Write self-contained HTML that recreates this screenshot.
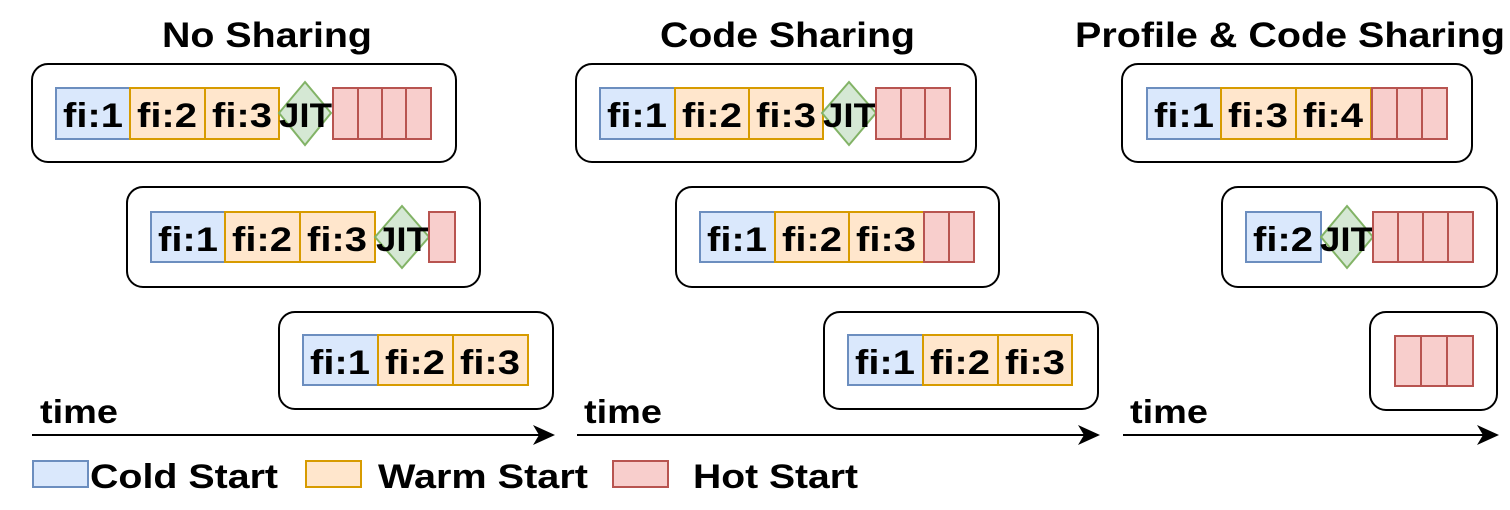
<!DOCTYPE html>
<html><head><meta charset="utf-8"><style>
html,body{margin:0;padding:0;background:#fff;}
svg{display:block;}
text{font-family:"Liberation Sans",Arial,sans-serif;font-weight:bold;fill:#000;}
.c{fill:#dae8fc;stroke:#6c8ebf;stroke-width:2;}
.w{fill:#ffe6cc;stroke:#d79b00;stroke-width:2;}
.h{fill:#f8cecc;stroke:#b85450;stroke-width:2;}
.d{fill:#d5e8d4;stroke:#82b366;stroke-width:2;}
.b{fill:none;stroke:#000;stroke-width:2;}
.t{font-size:34px;}
</style></head><body>
<svg width="1510" height="510" viewBox="0 0 1510 510" xmlns="http://www.w3.org/2000/svg">
<defs><marker id="ar" markerWidth="22" markerHeight="22" refX="20" refY="11" orient="auto" markerUnits="userSpaceOnUse"><path d="M0,1 L22,11 L0,21 L6,11 Z" fill="#000"/></marker></defs>
<!-- titles -->
<text x="162" y="47" font-size="35" textLength="210" lengthAdjust="spacingAndGlyphs">No Sharing</text>
<text x="660" y="47" font-size="35" textLength="255" lengthAdjust="spacingAndGlyphs">Code Sharing</text>
<text x="1075" y="47" font-size="35" textLength="430" lengthAdjust="spacingAndGlyphs">Profile &amp; Code Sharing</text>

<!-- Panel 1 -->
<rect class="b" x="32" y="64" width="424" height="98" rx="16"/>
<rect class="c" x="56" y="88" width="74" height="51"/><text class="t" x="63" y="127" textLength="60" lengthAdjust="spacingAndGlyphs">fi:1</text>
<rect class="w" x="130" y="88" width="75" height="51"/><text class="t" x="137" y="127" textLength="60" lengthAdjust="spacingAndGlyphs">fi:2</text>
<rect class="w" x="205" y="88" width="74" height="51"/><text class="t" x="212" y="127" textLength="60" lengthAdjust="spacingAndGlyphs">fi:3</text>
<polygon class="d" points="305,82 331,113 305,145 279,113"/><text class="t" x="279" y="127" textLength="53" lengthAdjust="spacingAndGlyphs">JIT</text>
<rect class="h" x="333" y="88" width="25" height="51"/><rect class="h" x="358" y="88" width="24" height="51"/><rect class="h" x="382" y="88" width="24" height="51"/><rect class="h" x="406" y="88" width="25" height="51"/>

<rect class="b" x="127" y="187" width="353" height="100" rx="16"/>
<rect class="c" x="151" y="212" width="74" height="50"/><text class="t" x="158" y="251" textLength="60" lengthAdjust="spacingAndGlyphs">fi:1</text>
<rect class="w" x="225" y="212" width="75" height="50"/><text class="t" x="232" y="251" textLength="60" lengthAdjust="spacingAndGlyphs">fi:2</text>
<rect class="w" x="300" y="212" width="75" height="50"/><text class="t" x="307" y="251" textLength="60" lengthAdjust="spacingAndGlyphs">fi:3</text>
<polygon class="d" points="402,206 429,237 402,268 375,237"/><text class="t" x="376" y="251" textLength="53" lengthAdjust="spacingAndGlyphs">JIT</text>
<rect class="h" x="429" y="212" width="26" height="50"/>

<rect class="b" x="279" y="312" width="274" height="97" rx="16"/>
<rect class="c" x="303" y="335" width="75" height="50"/><text class="t" x="310" y="374" textLength="60" lengthAdjust="spacingAndGlyphs">fi:1</text>
<rect class="w" x="378" y="335" width="75" height="50"/><text class="t" x="385" y="374" textLength="60" lengthAdjust="spacingAndGlyphs">fi:2</text>
<rect class="w" x="453" y="335" width="75" height="50"/><text class="t" x="460" y="374" textLength="60" lengthAdjust="spacingAndGlyphs">fi:3</text>

<text x="40" y="423" font-size="33" textLength="78" lengthAdjust="spacingAndGlyphs">time</text>
<line x1="32" y1="435" x2="553" y2="435" stroke="#000" stroke-width="2" marker-end="url(#ar)"/>

<!-- Panel 2 -->
<rect class="b" x="576" y="64" width="400" height="98" rx="16"/>
<rect class="c" x="600" y="88" width="75" height="51"/><text class="t" x="607" y="127" textLength="60" lengthAdjust="spacingAndGlyphs">fi:1</text>
<rect class="w" x="675" y="88" width="74" height="51"/><text class="t" x="682" y="127" textLength="60" lengthAdjust="spacingAndGlyphs">fi:2</text>
<rect class="w" x="749" y="88" width="74" height="51"/><text class="t" x="756" y="127" textLength="60" lengthAdjust="spacingAndGlyphs">fi:3</text>
<polygon class="d" points="849,82 876,113 849,145 822,113"/><text class="t" x="823" y="127" textLength="53" lengthAdjust="spacingAndGlyphs">JIT</text>
<rect class="h" x="876" y="88" width="25" height="51"/><rect class="h" x="901" y="88" width="24" height="51"/><rect class="h" x="925" y="88" width="25" height="51"/>

<rect class="b" x="676" y="187" width="323" height="100" rx="16"/>
<rect class="c" x="700" y="212" width="75" height="50"/><text class="t" x="707" y="251" textLength="60" lengthAdjust="spacingAndGlyphs">fi:1</text>
<rect class="w" x="775" y="212" width="74" height="50"/><text class="t" x="782" y="251" textLength="60" lengthAdjust="spacingAndGlyphs">fi:2</text>
<rect class="w" x="849" y="212" width="75" height="50"/><text class="t" x="856" y="251" textLength="60" lengthAdjust="spacingAndGlyphs">fi:3</text>
<rect class="h" x="924" y="212" width="25" height="50"/><rect class="h" x="949" y="212" width="25" height="50"/>

<rect class="b" x="824" y="312" width="274" height="97" rx="16"/>
<rect class="c" x="848" y="335" width="75" height="50"/><text class="t" x="855" y="374" textLength="60" lengthAdjust="spacingAndGlyphs">fi:1</text>
<rect class="w" x="923" y="335" width="75" height="50"/><text class="t" x="930" y="374" textLength="60" lengthAdjust="spacingAndGlyphs">fi:2</text>
<rect class="w" x="998" y="335" width="74" height="50"/><text class="t" x="1005" y="374" textLength="60" lengthAdjust="spacingAndGlyphs">fi:3</text>

<text x="584" y="423" font-size="33" textLength="78" lengthAdjust="spacingAndGlyphs">time</text>
<line x1="577" y1="435" x2="1098" y2="435" stroke="#000" stroke-width="2" marker-end="url(#ar)"/>

<!-- Panel 3 -->
<rect class="b" x="1122" y="64" width="350" height="98" rx="16"/>
<rect class="c" x="1147" y="88" width="74" height="51"/><text class="t" x="1154" y="127" textLength="60" lengthAdjust="spacingAndGlyphs">fi:1</text>
<rect class="w" x="1221" y="88" width="75" height="51"/><text class="t" x="1228" y="127" textLength="60" lengthAdjust="spacingAndGlyphs">fi:3</text>
<rect class="w" x="1296" y="88" width="75" height="51"/><text class="t" x="1303" y="127" textLength="60" lengthAdjust="spacingAndGlyphs">fi:4</text>
<rect class="h" x="1372" y="88" width="25" height="51"/><rect class="h" x="1397" y="88" width="25" height="51"/><rect class="h" x="1422" y="88" width="25" height="51"/>

<rect class="b" x="1222" y="187" width="275" height="100" rx="16"/>
<rect class="c" x="1246" y="212" width="75" height="50"/><text class="t" x="1253" y="251" textLength="60" lengthAdjust="spacingAndGlyphs">fi:2</text>
<polygon class="d" points="1347,206 1373,237 1347,268 1321,237"/><text class="t" x="1320" y="251" textLength="53" lengthAdjust="spacingAndGlyphs">JIT</text>
<rect class="h" x="1373" y="212" width="25" height="50"/><rect class="h" x="1398" y="212" width="25" height="50"/><rect class="h" x="1423" y="212" width="25" height="50"/><rect class="h" x="1448" y="212" width="25" height="50"/>

<rect class="b" x="1370" y="312" width="127" height="98" rx="16"/>
<rect class="h" x="1395" y="336" width="26" height="50"/><rect class="h" x="1421" y="336" width="26" height="50"/><rect class="h" x="1447" y="336" width="26" height="50"/>

<text x="1130" y="423" font-size="33" textLength="78" lengthAdjust="spacingAndGlyphs">time</text>
<line x1="1123" y1="435" x2="1497" y2="435" stroke="#000" stroke-width="2" marker-end="url(#ar)"/>

<!-- Legend -->
<rect class="c" x="33" y="461" width="55" height="26"/><text x="90" y="488" font-size="34" textLength="188" lengthAdjust="spacingAndGlyphs">Cold Start</text>
<rect class="w" x="306" y="461" width="55" height="26"/><text x="378" y="488" font-size="34" textLength="210" lengthAdjust="spacingAndGlyphs">Warm Start</text>
<rect class="h" x="613" y="461" width="55" height="26"/><text x="693" y="488" font-size="34" textLength="165" lengthAdjust="spacingAndGlyphs">Hot Start</text>
</svg>
</body></html>
